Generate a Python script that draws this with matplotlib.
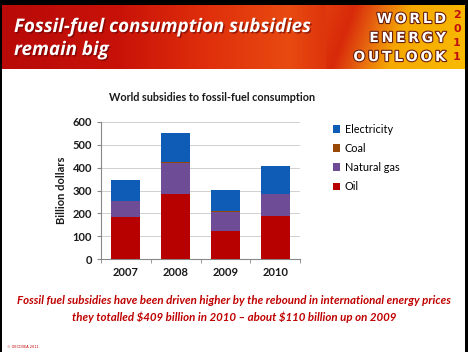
import numpy as np
import matplotlib
matplotlib.use("Agg")
import matplotlib.pyplot as plt
import matplotlib.patheffects as pe
from matplotlib.colors import LinearSegmentedColormap
from matplotlib.patches import Rectangle

# chart data (billion dollars)
years = ["2007", "2008", "2009", "2010"]
oil = [184, 285, 121, 190]
natural_gas = [70, 136, 87, 93]
coal = [1, 2, 2, 1]
electricity = [90, 130, 91, 123]

series_names = ["Oil", "Natural gas", "Coal", "Electricity"]
series_colors = ["#b70000", "#6e4c96", "#984807", "#0f5cb6"]

yticks = [0, 100, 200, 300, 400, 500, 600]

FONT = "Lato"
W, H = 468, 352
fig = plt.figure(figsize=(W / 100, H / 100), dpi=100)
fig.patch.set_facecolor("black")

def fx(px):
    return px / W

def fy(py):
    return 1 - py / H

# white page
fig.patches.append(Rectangle((fx(2), 0), fx(463), fy(5), transform=fig.transFigure,
                             facecolor="white", edgecolor="none", zorder=-5))

# banner
banner = fig.add_axes([fx(2), fy(69), fx(463), (69 - 5) / H])
banner.set_axis_off()
cmap = LinearSegmentedColormap.from_list(
    "banner",
    [(0.0, "#b80a08"), (0.25, "#c81208"), (0.45, "#e0300c"), (0.62, "#e84a10"),
     (0.74, "#d82a0a"), (0.80, "#e86a10"), (0.86, "#f5a800"), (1.0, "#f8b800")])
gx = np.linspace(0, 1, 463)
gy = np.linspace(0, 1, 64)[:, None]
grad = gx[None, :] + 0.05 * (gy - 0.5) * (gx[None, :] > 0.7)
banner.imshow(np.clip(grad, 0, 1), cmap=cmap, aspect="auto", extent=[0, 1, 0, 1])
banner.set_xlim(0, 1)
banner.set_ylim(0, 1)

title_fx = [pe.withSimplePatchShadow(offset=(1, -1), shadow_rgbFace="#600000", alpha=0.6)]
fig.text(fx(14), fy(27), "Fossil-fuel consumption subsidies", color="white", fontsize=13.5,
         fontweight="bold", fontstyle="italic", family="Open Sans", va="center", ha="left",
         path_effects=title_fx)
fig.text(fx(14), fy(50), "remain big", color="white", fontsize=13.5,
         fontweight="bold", fontstyle="italic", family="Open Sans", va="center", ha="left",
         path_effects=title_fx)

weo_fx = [pe.withStroke(linewidth=1.6, foreground="#6a2010")]
for word, ypx in [("WORLD", 19), ("ENERGY", 38), ("OUTLOOK", 57)]:
    fig.text(fx(446), fy(ypx), "\u2009".join(word), color="white", fontsize=10, fontweight="bold",
             family="DejaVu Sans", ha="right", va="center", path_effects=weo_fx)
for digit, ypx in zip("2011", [15, 29, 43, 57]):
    fig.text(fx(457), fy(ypx), digit, color="#c01010", fontsize=8, fontweight="bold",
             family="DejaVu Sans", ha="center", va="center")

# chart
ax = fig.add_axes([fx(101), fy(259), fx(199), (259 - 122) / H])
ax.set_facecolor("white")
x = np.arange(len(years))
bottom = np.zeros(len(years))
for name, vals, col in zip(series_names, [oil, natural_gas, coal, electricity], series_colors):
    ax.bar(x, vals, width=0.58, bottom=bottom, color=col, label=name, zorder=3)
    bottom += np.array(vals)

ax.set_xlim(-0.5, 3.45)
ax.set_ylim(0, 600)
ax.set_yticks(yticks)
ax.set_xticks(x)
ax.set_xticklabels(years, fontweight="bold")
ax.set_xticks(np.arange(-0.5, 4, 1), minor=True)
ax.tick_params(axis="x", which="major", length=0, pad=6, labelsize=8, colors="#1a1a1a")
ax.tick_params(axis="x", which="minor", length=3, color="#888888")
ax.tick_params(axis="y", length=3, color="#888888", labelsize=8, labelcolor="#1a1a1a")
for lbl in ax.get_yticklabels():
    lbl.set_fontweight("bold")
ax.yaxis.grid(True, color="#d0d0d0", linewidth=0.7, zorder=0)
for s in ["top", "right"]:
    ax.spines[s].set_visible(False)
for s in ["left", "bottom"]:
    ax.spines[s].set_color("#888888")
    ax.spines[s].set_linewidth(0.8)
ax.set_ylabel("Billion dollars", fontsize=8, fontweight="bold", color="#1a1a1a", labelpad=4)

for lbl in ax.get_xticklabels() + ax.get_yticklabels():
    lbl.set_family(FONT)
ax.yaxis.label.set_family(FONT)

fig.text(fx(212), fy(97), "World subsidies to fossil-fuel consumption", fontsize=7.8,
         fontweight="bold", family=FONT, color="#1a1a1a", ha="center", va="center")

handles, labels = ax.get_legend_handles_labels()
leg = fig.legend(handles[::-1], labels[::-1], loc="upper left",
                 bbox_to_anchor=(fx(323), fy(114)), frameon=False,
                 prop={"family": FONT, "size": 7.8},
                 handlelength=0.7, handleheight=0.7, handletextpad=0.4, labelspacing=0.75)

fig.text(fx(234), fy(300),
         "Fossil fuel subsidies have been driven higher by the rebound in international energy prices",
         color="#c00000", fontsize=8.3, fontweight="bold", fontstyle="italic", family=FONT,
         ha="center", va="center")
fig.text(fx(234), fy(317),
         "they totalled \\$409 billion in 2010 \u2013 about \\$110 billion up on 2009",
         color="#c00000", fontsize=8.3, fontweight="bold", fontstyle="italic", family=FONT,
         ha="center", va="center")

fig.text(fx(7), fy(347), "\u00a9 OECD/IEA 2011", color="#c00000", fontsize=2.5,
         ha="left", va="center")

fig.savefig("out.png", dpi=100, facecolor=fig.get_facecolor())
